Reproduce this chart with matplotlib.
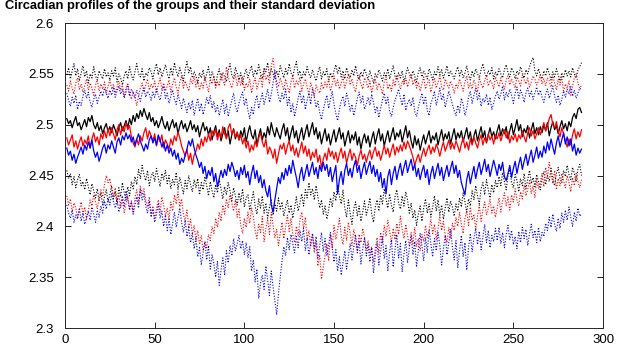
"""
Perfiles circadianos de los grupos con su desviación estándar.
"""

import numpy as np
import matplotlib
matplotlib.use("Agg")
import matplotlib.pyplot as plt

# valores en milésimas por encima de 2.0 (p.ej. 505 -> 2.505), una muestra cada 5 min
black_mean = [
    506, 501, 504, 497, 503, 508, 499, 502, 495, 500, 505, 498, 507, 503, 509, 500, 496, 502, 494, 499, 491, 497, 501, 493,
    498, 492, 500, 495, 489, 497, 502, 494, 499, 504, 497, 506, 500, 509, 503, 511, 506, 514, 508, 516, 510, 505, 512, 503,
    507, 499, 504, 497, 502, 508, 500, 496, 503, 494, 500, 505, 497, 502, 491, 499, 504, 496, 501, 493, 498, 504, 495, 500,
    493, 499, 488, 496, 502, 494, 498, 490, 497, 485, 493, 499, 488, 495, 484, 491, 497, 487, 494, 481, 490, 496, 486, 492,
    485, 494, 488, 497, 483, 492, 499, 490, 486, 495, 480, 489, 496, 485, 492, 487, 498, 490, 502, 494, 488, 497, 491, 486,
    495, 501, 489, 497, 484, 492, 499, 487, 494, 482, 490, 497, 485, 493, 500, 488, 495, 502, 490, 497, 486, 493, 481, 489,
    496, 484, 491, 480, 488, 495, 483, 490, 497, 486, 492, 479, 487, 494, 482, 490, 485, 493, 480, 488, 476, 485, 491, 482,
    489, 478, 486, 493, 481, 489, 496, 484, 491, 479, 487, 494, 483, 490, 497, 485, 492, 488, 495, 483, 491, 499, 487, 494,
    484, 477, 489, 480, 486, 475, 483, 490, 481, 488, 494, 482, 489, 485, 492, 480, 488, 495, 484, 491, 486, 493, 481, 489,
    496, 485, 492, 487, 494, 483, 490, 497, 486, 493, 481, 489, 495, 484, 491, 498, 487, 494, 482, 490, 497, 488, 493, 486,
    494, 500, 489, 496, 491, 498, 486, 494, 501, 490, 497, 505, 494, 500, 488, 496, 492, 499, 487, 495, 502, 491, 497, 490,
    498, 492, 500, 494, 502, 489, 497, 503, 495, 499, 491, 498, 504, 496, 501, 494, 503, 498, 507, 511, 506, 515, 517, 512,
]
red_mean = [
    487, 480, 485, 490, 478, 484, 476, 483, 488, 479, 485, 481, 489, 477, 486, 492, 483, 488, 480, 491, 486, 494, 487, 496,
    489, 497, 491, 485, 495, 500, 490, 498, 493, 502, 495, 499, 488, 482, 478, 486, 480, 489, 484, 492, 497, 486, 494, 489,
    484, 491, 479, 488, 483, 490, 477, 485, 481, 476, 486, 480, 489, 484, 493, 487, 479, 474, 469, 476, 465, 472, 461, 470,
    474, 481, 476, 486, 479, 488, 483, 491, 484, 494, 489, 496, 485, 492, 487, 498, 491, 486, 497, 501, 490, 495, 488, 493,
    485, 490, 481, 487, 477, 484, 473, 480, 475, 484, 478, 487, 492, 483, 478, 486, 471, 478, 474, 467, 476, 462, 471, 480,
    476, 482, 471, 479, 484, 474, 480, 470, 477, 468, 475, 483, 472, 479, 469, 476, 465, 473, 468, 476, 463, 470, 458, 466,
    472, 465, 477, 469, 474, 466, 473, 463, 471, 477, 467, 474, 462, 470, 476, 465, 472, 468, 460, 469, 475, 466, 471, 463,
    470, 475, 466, 473, 478, 469, 474, 465, 472, 480, 471, 477, 468, 475, 481, 470, 478, 473, 480, 474, 483, 476, 484, 479,
    474, 468, 460, 466, 471, 463, 470, 477, 469, 475, 480, 471, 478, 473, 481, 476, 469, 477, 483, 474, 479, 485, 476, 482,
    476, 484, 479, 473, 481, 487, 477, 483, 475, 486, 480, 488, 482, 477, 485, 490, 480, 487, 483, 491, 485, 489, 481, 490,
    486, 492, 484, 490, 495, 487, 493, 482, 489, 485, 491, 483, 490, 486, 494, 488, 483, 492, 497, 489, 494, 486, 491, 497,
    490, 496, 502, 494, 499, 506, 510, 500, 497, 503, 494, 488, 497, 491, 484, 478, 486, 480, 490, 496, 486, 493, 488, 495,
]
blue_mean = [
    477, 470, 474, 465, 471, 462, 468, 473, 478, 471, 480, 475, 483, 477, 485, 474, 468, 473, 464, 470, 477, 481, 472, 480,
    476, 484, 478, 472, 483, 487, 480, 489, 485, 492, 486, 490, 483, 488, 480, 486, 491, 484, 479, 474, 481, 476, 485, 489,
    482, 487, 480, 490, 485, 478, 483, 474, 480, 472, 477, 469, 475, 466, 472, 461, 467, 463, 470, 476, 484, 479, 486, 477,
    470, 465, 458, 463, 452, 459, 447, 455, 450, 458, 444, 452, 439, 447, 455, 448, 456, 450, 461, 454, 463, 457, 449, 455,
    446, 458, 451, 460, 448, 454, 441, 452, 460, 447, 455, 443, 450, 438, 446, 435, 429, 440, 421, 414, 426, 437, 448, 442,
    453, 446, 457, 450, 460, 452, 465, 456, 448, 438, 451, 458, 445, 453, 461, 449, 456, 463, 451, 458, 447, 460, 454, 463,
    455, 461, 449, 458, 444, 452, 460, 432, 446, 454, 441, 455, 462, 450, 457, 448, 459, 465, 453, 460, 447, 456, 463, 451,
    458, 464, 452, 460, 449, 456, 444, 453, 438, 447, 432, 449, 456, 441, 452, 459, 446, 455, 462, 450, 458, 465, 453, 460,
    466, 455, 461, 449, 457, 446, 454, 460, 448, 456, 441, 452, 459, 447, 455, 462, 450, 458, 445, 453, 460, 449, 457, 464,
    452, 460, 448, 455, 443, 437, 431, 446, 454, 442, 451, 459, 447, 456, 463, 451, 458, 466, 454, 461, 449, 457, 465, 458,
    450, 461, 455, 463, 449, 445, 452, 460, 448, 457, 464, 452, 461, 468, 456, 464, 471, 460, 468, 475, 463, 470, 478, 467,
    474, 468, 479, 472, 483, 475, 486, 478, 471, 482, 489, 478, 485, 492, 481, 488, 479, 486, 474, 481, 470, 477, 472, 476,
]

black_upper = [
    549, 556, 545, 553, 560, 548, 555, 543, 551, 558, 547, 553, 541, 550, 546, 557, 548, 544, 553, 549, 545, 555, 547, 551,
    544, 553, 548, 556, 542, 550, 546, 539, 548, 553, 545, 557, 549, 544, 552, 560, 550, 547, 555, 543, 551, 548, 556, 552,
    545, 554, 560, 549, 556, 547, 553, 559, 550, 545, 556, 548, 561, 553, 547, 556, 550, 543, 554, 562, 551, 557, 546, 552,
    548, 541, 551, 546, 554, 543, 550, 557, 545, 552, 547, 539, 549, 555, 544, 551, 547, 542, 553, 560, 549, 545, 556, 551,
    544, 551, 540, 549, 555, 546, 552, 558, 547, 554, 549, 559, 551, 545, 556, 552, 561, 548, 555, 550, 545, 553, 547, 558,
    552, 546, 555, 549, 560, 551, 547, 556, 562, 549, 553, 545, 552, 548, 557, 550, 546, 554, 548, 543, 551, 557, 545, 552,
    548, 555, 543, 551, 546, 553, 559, 550, 557, 547, 553, 545, 556, 550, 546, 554, 548, 558, 549, 544, 552, 547, 555, 550,
    544, 553, 547, 541, 550, 546, 554, 549, 543, 551, 547, 555, 545, 552, 558, 548, 544, 551, 546, 553, 542, 549, 556, 550,
    546, 553, 548, 542, 551, 556, 547, 553, 549, 545, 555, 550, 544, 552, 548, 557, 549, 554, 546, 551, 558, 547, 553, 549,
    545, 552, 557, 548, 554, 546, 551, 558, 549, 544, 553, 547, 555, 550, 546, 554, 560, 551, 547, 553, 549, 556, 545, 552,
    548, 555, 550, 546, 554, 559, 551, 547, 556, 552, 545, 553, 549, 557, 551, 546, 554, 550, 557, 562, 566, 553, 548, 555,
    549, 545, 553, 548, 556, 550, 544, 552, 547, 555, 549, 543, 551, 546, 554, 548, 553, 547, 556, 550, 546, 554, 557, 561,
]
red_upper = [
    539, 533, 543, 536, 530, 541, 546, 535, 540, 532, 538, 545, 534, 541, 536, 529, 539, 544, 533, 540, 535, 542, 531, 538,
    544, 535, 540, 531, 537, 543, 534, 539, 528, 536, 541, 530, 525, 533, 527, 519, 528, 536, 541, 532, 539, 545, 534, 540,
    536, 543, 531, 539, 546, 535, 541, 533, 538, 544, 532, 540, 546, 537, 531, 542, 548, 536, 543, 538, 533, 545, 540, 548,
    537, 543, 534, 541, 536, 547, 539, 532, 545, 540, 548, 536, 543, 538, 551, 544, 539, 557, 547, 541, 536, 544, 550, 538,
    545, 539, 547, 534, 541, 537, 545, 531, 540, 546, 535, 542, 548, 537, 553, 544, 549, 540, 558, 565, 550, 543, 537, 546,
    540, 534, 545, 538, 531, 542, 548, 536, 543, 539, 547, 533, 540, 545, 537, 530, 541, 536, 528, 539, 534, 531, 541, 535,
    542, 537, 545, 533, 540, 548, 538, 544, 535, 541, 547, 536, 543, 550, 539, 545, 537, 532, 544, 549, 540, 535, 546, 542,
    536, 543, 531, 539, 545, 534, 541, 537, 530, 542, 547, 535, 540, 533, 544, 538, 549, 541, 535, 543, 539, 546, 537, 544,
    550, 539, 545, 536, 542, 533, 540, 547, 535, 541, 544, 532, 539, 546, 536, 542, 548, 537, 534, 545, 540, 536, 543, 538,
    531, 540, 536, 545, 539, 533, 542, 548, 536, 541, 535, 544, 539, 532, 546, 540, 536, 543, 549, 538, 544, 541, 535, 547,
    542, 537, 546, 540, 535, 544, 548, 539, 545, 541, 536, 547, 543, 538, 549, 544, 540, 546, 537, 542, 548, 545, 539, 543,
    549, 540, 545, 538, 546, 543, 537, 548, 541, 534, 545, 539, 547, 532, 540, 536, 543, 529, 538, 546, 550, 541, 536, 539,
]
blue_upper = [
    531, 524, 518, 527, 521, 529, 515, 523, 519, 528, 534, 526, 532, 522, 517, 525, 530, 521, 527, 533, 528, 536, 531, 526,
    534, 529, 537, 527, 533, 538, 530, 535, 526, 532, 539, 528, 535, 531, 526, 534, 529, 523, 531, 536, 527, 533, 530, 524,
    532, 527, 535, 529, 524, 533, 538, 526, 531, 521, 528, 534, 525, 520, 530, 523, 516, 526, 519, 512, 522, 515, 524, 509,
    518, 526, 513, 521, 510, 517, 527, 520, 529, 516, 523, 512, 519, 509, 517, 525, 511, 520, 508, 516, 524, 531, 519, 512,
    521, 527, 532, 519, 526, 514, 506, 517, 510, 522, 529, 516, 524, 531, 520, 527, 535, 522, 530, 541, 553, 537, 528, 522,
    531, 525, 535, 519, 527, 512, 521, 508, 517, 526, 533, 521, 529, 515, 524, 531, 520, 536, 527, 517, 523, 512, 505, 515,
    522, 529, 516, 525, 533, 520, 511, 504, 515, 523, 528, 518, 531, 524, 513, 520, 509, 517, 526, 532, 521, 528, 515, 520,
    527, 519, 530, 522, 512, 518, 507, 516, 524, 531, 520, 527, 513, 508, 517, 524, 529, 535, 526, 519, 530, 514, 521, 525,
    518, 527, 513, 508, 517, 524, 531, 520, 528, 514, 509, 521, 526, 533, 519, 527, 536, 524, 530, 517, 525, 533, 527, 520,
    514, 509, 519, 512, 526, 520, 509, 516, 527, 533, 521, 529, 536, 524, 531, 518, 526, 522, 530, 519, 527, 515, 521, 528,
    533, 525, 530, 538, 524, 532, 527, 535, 529, 521, 531, 537, 526, 534, 530, 522, 531, 536, 528, 533, 525, 531, 537, 529,
    534, 527, 522, 530, 535, 526, 532, 538, 528, 522, 529, 519, 525, 533, 527, 535, 530, 538, 528, 534, 526, 531, 536, 534,
]

black_lower = [
    455, 447, 452, 441, 449, 438, 446, 451, 440, 444, 436, 447, 439, 431, 442, 435, 428, 437, 425, 433, 421, 429, 436, 424,
    431, 440, 427, 434, 422, 438, 429, 443, 433, 426, 439, 430, 444, 437, 449, 441, 456, 447, 460, 451, 445, 455, 440, 449,
    453, 444, 457, 448, 439, 452, 446, 455, 442, 450, 437, 446, 441, 453, 436, 448, 440, 432, 445, 437, 450, 441, 434, 446,
    438, 447, 431, 443, 436, 449, 440, 430, 444, 435, 428, 441, 433, 446, 437, 427, 439, 431, 443, 435, 425, 438, 430, 421,
    433, 424, 437, 419, 428, 431, 416, 425, 434, 420, 412, 427, 418, 430, 413, 423, 408, 419, 426, 411, 422, 415, 428, 417,
    424, 410, 419, 426, 413, 421, 408, 418, 429, 415, 423, 432, 420, 436, 428, 443, 431, 437, 426, 440, 429, 418, 426, 412,
    420, 407, 416, 428, 419, 434, 425, 441, 430, 422, 436, 418, 409, 426, 413, 402, 417, 424, 410, 420, 405, 414, 425, 411,
    418, 428, 412, 404, 419, 426, 415, 431, 422, 437, 427, 418, 432, 421, 414, 429, 436, 423, 417, 430, 420, 434, 426, 413,
    423, 408, 416, 401, 412, 420, 405, 418, 427, 413, 422, 409, 419, 430, 415, 426, 411, 421, 407, 418, 428, 414, 425, 419,
    410, 422, 415, 428, 419, 433, 424, 414, 427, 420, 435, 426, 440, 430, 422, 437, 443, 431, 446, 436, 428, 441, 433, 445,
    438, 449, 440, 453, 444, 436, 450, 456, 443, 438, 451, 445, 434, 447, 440, 452, 437, 446, 455, 442, 448, 439, 451, 444,
    436, 448, 454, 441, 450, 444, 457, 446, 440, 452, 458, 447, 443, 455, 449, 460, 451, 446, 458, 452, 444, 456, 461, 450,
]
red_lower = [
    430, 421, 427, 414, 423, 418, 409, 416, 424, 412, 419, 407, 415, 426, 420, 431, 424, 417, 428, 436, 429, 441, 450, 443,
    447, 436, 429, 438, 424, 431, 418, 427, 413, 422, 430, 417, 425, 414, 428, 436, 423, 440, 431, 437, 426, 419, 429, 412,
    420, 408, 417, 426, 414, 429, 421, 410, 418, 407, 424, 415, 431, 422, 434, 419, 427, 412, 405, 416, 398, 407, 392, 401,
    387, 396, 382, 391, 376, 385, 379, 392, 386, 400, 393, 408, 399, 414, 405, 421, 412, 427, 418, 431, 423, 415, 426, 409,
    417, 401, 393, 408, 399, 414, 403, 418, 410, 396, 388, 402, 394, 410, 385, 398, 407, 392, 414, 401, 389, 397, 381, 393,
    404, 388, 399, 411, 395, 408, 392, 384, 400, 391, 406, 414, 398, 409, 387, 396, 380, 392, 374, 385, 361, 372, 348, 360,
    371, 383, 366, 392, 379, 401, 387, 396, 408, 391, 382, 399, 386, 404, 393, 381, 397, 388, 376, 392, 384, 398, 389, 377,
    386, 373, 380, 365, 378, 389, 374, 394, 383, 401, 390, 406, 395, 384, 398, 387, 403, 392, 410, 397, 388, 402, 391, 380,
    394, 383, 399, 380, 388, 376, 392, 385, 401, 389, 396, 407, 393, 402, 387, 398, 410, 396, 405, 391, 384, 399, 388, 403,
    396, 409, 400, 414, 402, 393, 408, 415, 401, 419, 406, 412, 397, 410, 421, 405, 416, 424, 411, 418, 427, 413, 420, 409,
    418, 428, 414, 425, 433, 420, 429, 416, 431, 424, 437, 426, 420, 434, 427, 441, 430, 436, 445, 432, 440, 428, 446, 437,
    443, 452, 439, 458, 448, 463, 452, 442, 455, 436, 447, 440, 452, 445, 438, 450, 443, 434, 448, 440, 452, 444, 438, 446,
]
blue_lower = [
    421, 413, 408, 416, 404, 411, 407, 418, 405, 413, 402, 409, 415, 406, 419, 412, 404, 416, 409, 420, 413, 425, 417, 428,
    421, 432, 424, 418, 427, 414, 423, 430, 419, 435, 426, 416, 424, 412, 421, 429, 418, 436, 426, 432, 420, 413, 425, 409,
    417, 404, 412, 422, 408, 415, 400, 411, 396, 407, 392, 403, 414, 399, 409, 418, 404, 394, 406, 390, 399, 384, 393, 378,
    388, 370, 379, 362, 374, 385, 367, 381, 358, 372, 363, 350, 366, 342, 357, 369, 352, 376, 364, 381, 371, 388, 376, 383,
    391, 378, 386, 372, 384, 369, 380, 356, 367, 345, 358, 329, 344, 352, 338, 361, 347, 332, 356, 341, 327, 313, 334, 350,
    366, 380, 371, 389, 377, 392, 383, 374, 390, 379, 396, 385, 398, 376, 388, 372, 384, 393, 378, 390, 369, 381, 394, 375,
    388, 371, 382, 394, 379, 365, 377, 356, 370, 352, 364, 376, 358, 371, 383, 367, 380, 392, 374, 386, 363, 378, 389, 371,
    382, 365, 379, 354, 371, 384, 362, 376, 390, 368, 381, 356, 374, 387, 360, 377, 392, 369, 383, 355, 373, 386, 364, 379,
    391, 372, 385, 360, 377, 393, 381, 366, 389, 374, 396, 383, 370, 388, 376, 394, 381, 362, 378, 391, 372, 384, 397, 380,
    367, 386, 359, 376, 391, 370, 384, 357, 379, 393, 375, 388, 398, 382, 395, 377, 389, 402, 384, 396, 379, 391, 385, 398,
    386, 399, 383, 394, 379, 392, 401, 387, 396, 382, 390, 378, 395, 384, 399, 388, 397, 381, 393, 402, 389, 396, 384, 399,
    385, 394, 390, 403, 396, 409, 399, 412, 402, 395, 408, 398, 413, 404, 416, 406, 419, 409, 400, 414, 405, 418, 410, 412,
]

x_ticks = [0, 50, 100, 150, 200, 250, 300]
y_ticks = [2.3, 2.35, 2.4, 2.45, 2.5, 2.55, 2.6]


def to_val(arr):
    return 2.0 + np.asarray(arr) / 1000.0


plt.rcParams["font.family"] = ["Liberation Sans", "DejaVu Sans"]

fig = plt.figure(figsize=(6.3, 3.54), dpi=100)
# caja de ejes: x 65..603 px, y 23..328 px
ax = fig.add_axes([0.1032, 0.0734, 0.8540, 0.8616])

t = np.arange(1, len(black_mean) + 1)

# bandas de desviación (punteadas) y luego las medias
for arr, c in [(black_upper, "k"), (red_upper, "r"), (blue_upper, "b"),
               (black_lower, "k"), (red_lower, "r"), (blue_lower, "b")]:
    ax.plot(t, to_val(arr), linestyle=(0, (1, 1.5)), color=c, linewidth=0.8)

ax.plot(t, to_val(black_mean), color="k", linewidth=0.9)
ax.plot(t, to_val(red_mean), color="r", linewidth=0.9)
ax.plot(t, to_val(blue_mean), color="b", linewidth=0.9)

ax.set_xlim(0, 300)
ax.set_ylim(2.3, 2.6)
ax.set_xticks(x_ticks)
ax.set_yticks(y_ticks)
ax.set_yticklabels([f"{v:g}" for v in y_ticks])
ax.tick_params(direction="in", top=True, right=True, labelsize=9.5, length=4.5, width=0.6)
ax.tick_params(axis="y", pad=8)
ax.tick_params(axis="x", pad=4)
for s in ax.spines.values():
    s.set_linewidth(0.7)
    s.set_color("#262626")

fig.text(0.008, 1.0, "Circadian profiles of the groups and their standard deviation",
         ha="left", va="top", fontsize=9.3, fontweight="bold")

fig.savefig("out.png", dpi=100)
